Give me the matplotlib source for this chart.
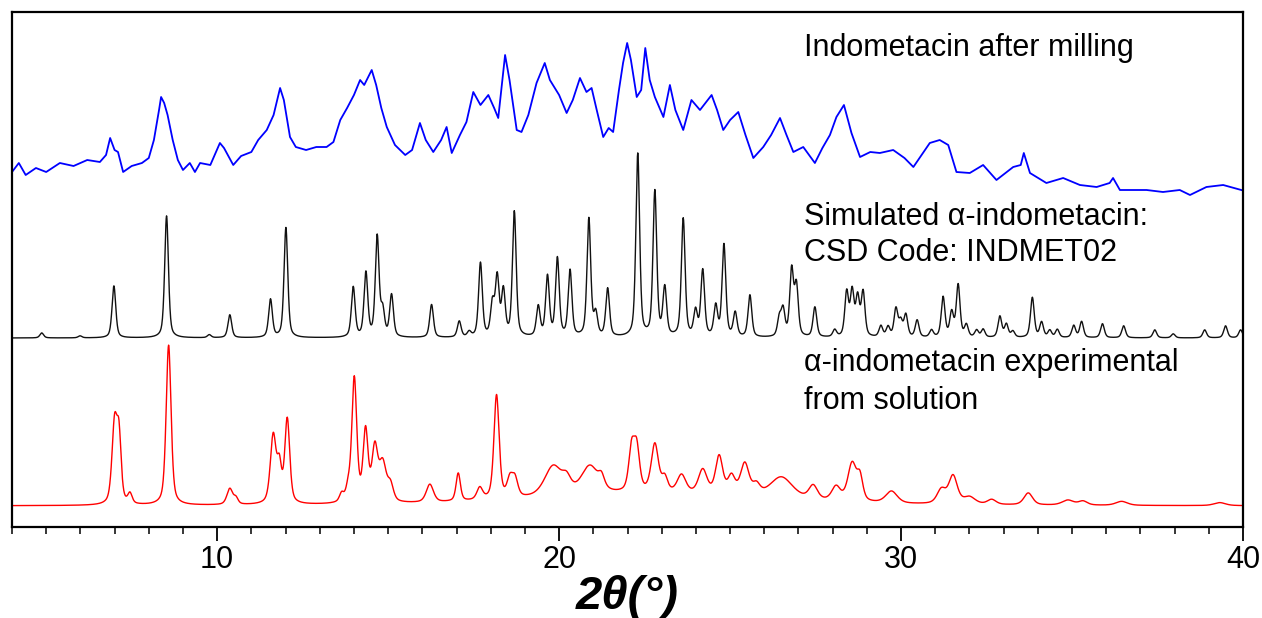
import numpy as np
import matplotlib
matplotlib.use('Agg')
import matplotlib.pyplot as plt

plt.rcParams['font.family'] = ['Liberation Sans', 'DejaVu Sans']

#Milled sample: profile readings (2theta, offset intensity)
blue_x = [4.0, 4.2, 4.4, 4.7, 5.0, 5.4, 5.8, 6.2, 6.57, 6.75, 6.87, 7.0, 7.1, 7.25, 7.5, 7.8,
          8.0, 8.15, 8.3, 8.36, 8.45, 8.55, 8.7, 8.85, 9.0, 9.2, 9.35, 9.5, 9.8, 10.08, 10.2,
          10.47, 10.7, 11.0, 11.2, 11.45, 11.65, 11.84, 11.95, 12.13, 12.3, 12.6, 12.9, 13.2,
          13.4, 13.6, 13.8, 14.0, 14.18, 14.3, 14.52, 14.65, 14.8, 14.96, 15.2, 15.5, 15.7,
          15.93, 16.1, 16.32, 16.55, 16.71, 16.86, 17.1, 17.29, 17.49, 17.7, 17.93, 18.1,
          18.22, 18.42, 18.55, 18.76, 18.9, 19.1, 19.34, 19.58, 19.73, 20.0, 20.22, 20.4,
          20.61, 20.8, 20.95, 21.1, 21.29, 21.45, 21.58, 21.75, 21.87, 21.99, 22.1, 22.27,
          22.4, 22.52, 22.65, 22.8, 23.05, 23.24, 23.4, 23.63, 23.87, 24.12, 24.46, 24.62,
          24.8, 25.0, 25.24, 25.45, 25.68, 25.97, 26.2, 26.46, 26.65, 26.85, 27.14, 27.48,
          27.7, 27.92, 28.11, 28.33, 28.55, 28.8, 29.1, 29.38, 29.77, 30.1, 30.36, 30.6,
          30.84, 31.13, 31.38, 31.62, 32.01, 32.4, 32.79, 33.28, 33.5, 33.59, 33.77, 34.25,
          34.74, 35.23, 35.72, 36.1, 36.2, 36.4, 36.69, 37.18, 37.66, 38.15, 38.45, 38.93,
          39.42, 39.95]
blue_y = [355, 364, 352, 359, 355, 364, 361, 367, 365, 372, 389, 377, 375, 355, 361, 364,
          369, 387, 417, 430, 424, 412, 387, 367, 357, 364, 355, 364, 362, 384, 379,
          362, 371, 375, 387, 397, 412, 439, 427, 390, 380, 377, 380, 380,
          385, 407, 419, 432, 447, 442, 457, 442, 419, 400, 382, 372, 377,
          404, 387, 375, 387, 400, 374, 392, 405, 435, 422, 432, 419,
          409, 472, 447, 397, 395, 412, 444, 464, 447, 432, 414, 427,
          449, 435, 439, 417, 390, 399, 395, 437, 464, 484, 467, 430,
          437, 479, 447, 430, 410, 442, 417, 397, 427, 417, 432, 417,
          397, 407, 415, 392, 369, 380, 392, 409, 392, 375, 380, 364,
          379, 392, 410, 422, 394, 370, 375, 374, 377, 369, 360, 372,
          384, 387, 382, 355, 354, 362, 347, 360, 362, 374, 354, 344,
          349, 342, 340, 344, 349, 337, 337, 337, 335, 337, 332, 340,
          342, 337]

#Simulated pattern (INDMET02): peak positions and heights
black_base = 189
black_pos = [4.87, 5.99, 6.98, 8.52, 9.77, 10.37, 11.56, 12.01, 13.98, 14.35, 14.68, 14.84,
             15.10, 16.27, 17.08, 17.37, 17.70, 18.05, 18.19, 18.37, 18.69, 19.39, 19.66,
             19.95, 20.32, 20.87, 21.07, 21.42, 22.30, 22.80, 23.09, 23.63, 23.99, 24.20,
             24.58, 24.82, 25.15, 25.58, 26.44, 26.55, 26.80, 26.94, 27.48, 28.06, 28.41,
             28.57, 28.73, 28.89, 29.41, 29.62, 29.85, 29.99, 30.14, 30.47, 30.89, 31.23,
             31.48, 31.67, 31.91, 32.21, 32.40, 32.89, 33.08, 33.27, 33.84, 34.11, 34.35,
             34.57, 35.05, 35.28, 35.89, 36.51, 37.42, 37.96, 38.88, 39.49, 39.93]
black_h = [5, 2, 52, 122, 3, 23, 38, 110, 50, 64, 100, 25,
           42, 33, 16, 5, 74, 32, 58, 45, 125, 30, 60,
           78, 66, 118, 22, 48, 183, 145, 48, 118, 25, 66,
           30, 92, 24, 42, 18, 26, 66, 50, 30, 7, 44,
           44, 38, 44, 11, 10, 28, 15, 22, 17, 7, 40,
           24, 52, 12, 7, 8, 21, 13, 6, 40, 15, 7,
           8, 12, 16, 14, 12, 8, 4, 8, 12, 8]

#Experimental pattern from solution: peak positions, heights, widths
red_base = 21
red_pos = [7.00, 7.13, 7.45, 8.58, 10.37, 10.55, 11.64, 11.82, 12.05, 13.64, 13.83, 14.01,
           14.34, 14.61, 14.84, 15.07, 16.22, 17.05, 17.68, 18.17, 18.56, 18.71, 19.83,
           20.22, 20.90, 21.24, 22.12, 22.27, 22.80, 23.09, 23.58, 24.20, 24.68, 25.04,
           25.43, 25.77, 26.50, 27.43, 28.10, 28.57, 28.80, 29.72, 31.18, 31.52, 32.00,
           32.65, 33.72, 34.88, 35.32, 36.45, 39.32, 22.50]
red_h = [80, 62, 10, 160, 16, 6, 68, 34, 84, 8, 12, 124,
         70, 52, 38, 16, 18, 28, 12, 104, 18, 18, 30,
         12, 28, 10, 42, 42, 48, 14, 18, 24, 38, 18,
         32, 10, 22, 14, 14, 38, 22, 12, 14, 28, 7,
         5, 12, 5, 4, 4, 3, 12]
red_w = [0.18, 0.15, 0.15, 0.17, 0.2, 0.15, 0.2, 0.15, 0.17, 0.15, 0.15, 0.17,
         0.17, 0.2, 0.25, 0.2, 0.25, 0.15, 0.2, 0.18, 0.2, 0.2, 0.6,
         0.3, 0.6, 0.2, 0.2, 0.2, 0.25, 0.2, 0.3, 0.3, 0.25, 0.25,
         0.3, 0.25, 0.8, 0.3, 0.3, 0.3, 0.2, 0.4, 0.3, 0.3, 0.4,
         0.3, 0.3, 0.4, 0.3, 0.4, 0.4, 8.0]


def pattern(x, pos, h, w, eta=0.5):
    #pseudo-Voigt sum
    y = np.zeros_like(x)
    for p, a, f in zip(pos, h, w):
        d = (x - p) / (f / 2)
        y += a * (eta / (1 + d**2) + (1 - eta) * np.exp(-np.log(2) * d**2))
    return y


tt = np.linspace(4, 40, 3601)
black_y = black_base + pattern(tt, black_pos, black_h, [0.13] * len(black_pos))
red_y = red_base + pattern(tt, red_pos, red_h, red_w)

fig = plt.figure(figsize=(12.62, 6.18), dpi=100)
ax = fig.add_axes([12 / 1262, 91 / 618, 1231 / 1262, 515 / 618])

ax.plot(blue_x, blue_y, color='#0000ff', lw=1.3)
ax.plot(tt, black_y, color='#111111', lw=1.0)
ax.plot(tt, red_y, color='#ff0000', lw=1.0)

ax.set_xlim(4, 40)
ax.set_ylim(0, 515)
ax.set_yticks([])
ax.set_xticks([10, 20, 30, 40])
ax.set_xticks(np.arange(4, 41, 1), minor=True)
ax.tick_params(axis='x', which='major', direction='out', length=10, width=1.3, labelsize=22, pad=3)
ax.tick_params(axis='x', which='minor', direction='out', length=5, width=1.1)
for s in ax.spines.values():
    s.set_linewidth(1.6)

ax.set_xlabel('2θ(°)', fontsize=34, fontweight='bold', fontstyle='italic', labelpad=0)

#labels of each trace
kw = dict(fontsize=22, va='center')
fx = 4 + (804 - 12) / 34.2
ax.text(fx, 527 - 48, 'Indometacin after milling', **kw)
ax.text(fx, 527 - 217, 'Simulated α-indometacin:', **kw)
ax.text(fx, 527 - 253, 'CSD Code: INDMET02', **kw)
ax.text(fx, 527 - 363, 'α-indometacin experimental', **kw)
ax.text(fx, 527 - 401, 'from solution', **kw)

fig.savefig('out.png', dpi=100)
